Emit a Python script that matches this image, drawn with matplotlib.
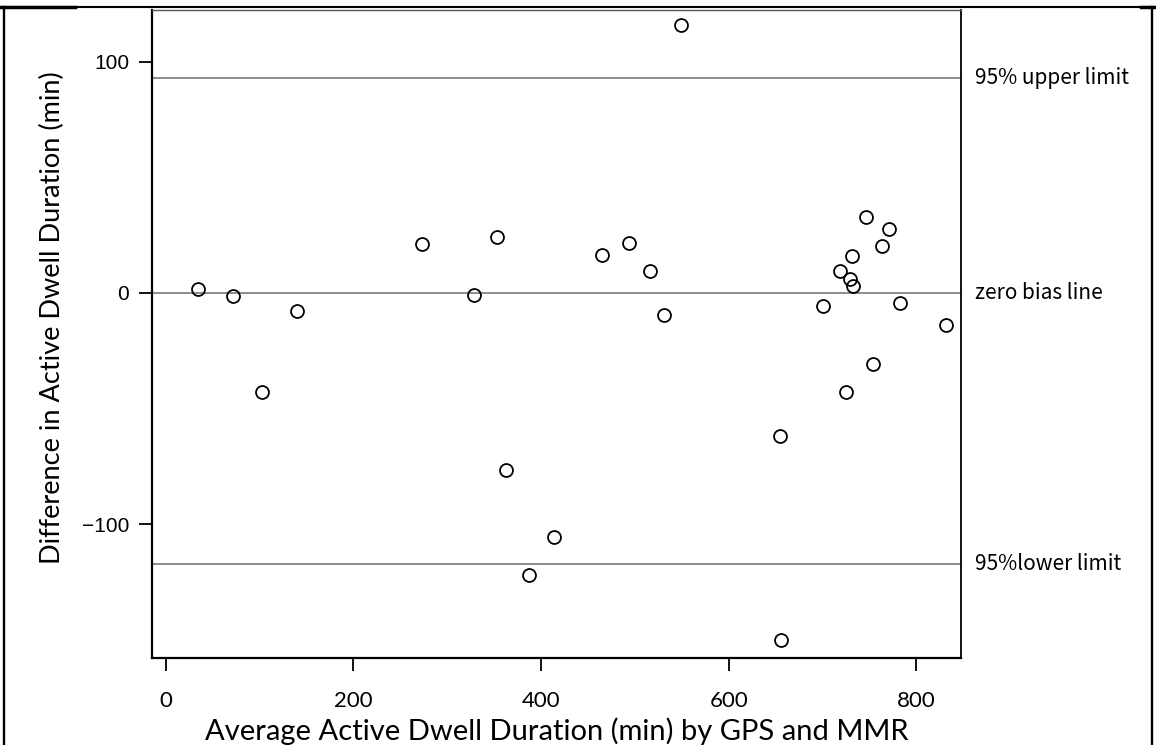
import numpy as np
import matplotlib.pyplot as plt
from matplotlib.lines import Line2D

# mean of the two methods (min) and their difference (min)
avg_dwell = [34, 72, 103, 140, 273, 329, 353, 363, 387, 414, 465, 494, 516, 531, 549,
             656, 655, 700, 719, 725, 729, 731, 732, 746, 754, 763, 771, 783, 832]
diff_dwell = [1.7, -1.4, -42.7, -7.7, 21.2, -1.0, 24.1, -76.6, -122, -105.6, 16.5, 21.6,
              9.6, -9.5, 116, -150.4, -61.8, -5.5, 9.7, -42.7, 5.9, 16.0, 2.9, 32.9, -30.6,
              20.2, 27.5, -4.3, -13.9]

ref_lines = [93, 0, -117.5]
ref_names = ["95% upper limit", "zero bias line", "95%lower limit"]

fig = plt.figure(figsize=(11.56, 7.45), dpi=100)
ax = fig.add_axes([152 / 1156, 1 - 658 / 745, (961 - 152) / 1156, (658 - 10) / 745])

for val, name in zip(ref_lines, ref_names):
    ax.axhline(val, color="#8c8c8c", lw=1.4, zorder=1)
    ax.text(1.017, val, name, transform=ax.get_yaxis_transform(), va="center", ha="left",
            fontsize=15, family=["Noto Sans CJK JP", "DejaVu Sans"])

ax.plot(avg_dwell, diff_dwell, "o", mfc="none", mec="black", ms=9.3, mew=1.3, zorder=3)

ax.set_xlim(-14.6, 847.6)
ax.set_ylim(-158, 122.5)
ax.set_xticks([0, 200, 400, 600, 800])
ax.set_yticks([100, 0, -100])
ax.set_yticklabels(["100", "0", "\u2212100"], family="Liberation Sans", fontsize=15)
for lab in ax.get_xticklabels():
    lab.set_family("Lato")
    lab.set_fontsize(16)
ax.tick_params(axis="x", length=9.5, width=1.3, pad=14)
ax.tick_params(axis="y", length=9.5, width=1.3, pad=7)

for side in ["left", "bottom"]:
    ax.spines[side].set_linewidth(1.6)
ax.spines["right"].set_linewidth(1.3)
ax.spines["top"].set_linewidth(1.0)
ax.spines["top"].set_color("#555555")

ax.set_xlabel("Average Active Dwell Duration (min) by GPS and MMR", family="Lato",
              fontsize=21, labelpad=5)
ax.set_ylabel("Difference in Active Dwell Duration (min)", family="Lato", fontsize=19.5)
ax.yaxis.set_label_coords(-0.108, 0.525)

# outer frame around the whole figure
H = 745.0
W = 1156.0
frame = [
    ([0, 1], [1 - 7 / H, 1 - 7 / H], 1.5),
    ([0, 75 / W], [1 - 7 / H, 1 - 7 / H], 2.5),
    ([1141 / W, 1], [1 - 7 / H, 1 - 7 / H], 2.5),
    ([4 / W, 4 / W], [0, 1 - 7 / H], 1.7),
    ([1152 / W, 1152 / W], [0, 1 - 7 / H], 1.7),
]
for xs, ys, lw in frame:
    fig.add_artist(Line2D(xs, ys, color="black", lw=lw, transform=fig.transFigure))

fig.savefig("out.png", dpi=100)
